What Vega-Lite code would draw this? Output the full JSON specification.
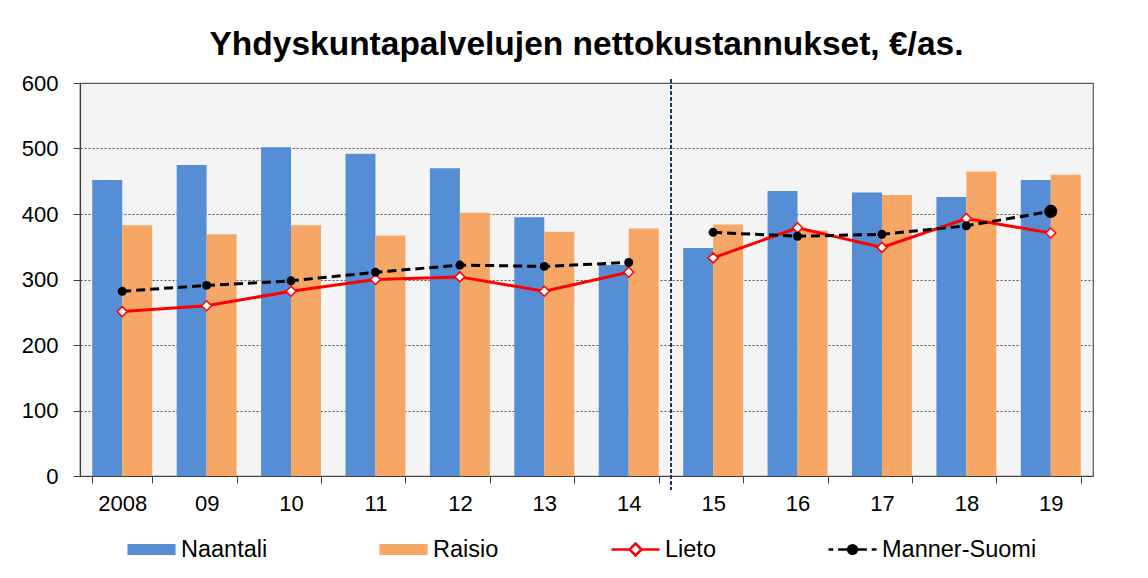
{
  "$schema": "https://vega.github.io/schema/vega-lite/v6.json",
  "width": 1013,
  "height": 393,
  "autosize": {"type": "none"},
  "padding": {"left": 80, "top": 83, "right": 55, "bottom": 102},
  "background": "#ffffff",
  "title": {
    "text": "Yhdyskuntapalvelujen nettokustannukset, €/as.",
    "fontSize": 33.5,
    "fontWeight": "bold",
    "font": "Liberation Sans",
    "color": "#000000",
    "anchor": "middle",
    "frame": "group",
    "offset": 10
  },
  "config": {
    "font": "Liberation Sans",
    "view": {"fill": "#f4f4f4", "stroke": "#595959", "strokeWidth": 1.2}
  },
  "data": {
    "values": [
      {"year": "2008", "series": "Naantali", "value": 452, "period": "a"},
      {"year": "2008", "series": "Raisio", "value": 383, "period": "a"},
      {"year": "2008", "series": "Lieto", "value": 251, "period": "a"},
      {"year": "2008", "series": "Manner-Suomi", "value": 282, "period": "a"},
      {"year": "09", "series": "Naantali", "value": 475, "period": "a"},
      {"year": "09", "series": "Raisio", "value": 369, "period": "a"},
      {"year": "09", "series": "Lieto", "value": 260, "period": "a"},
      {"year": "09", "series": "Manner-Suomi", "value": 291, "period": "a"},
      {"year": "10", "series": "Naantali", "value": 502, "period": "a"},
      {"year": "10", "series": "Raisio", "value": 383, "period": "a"},
      {"year": "10", "series": "Lieto", "value": 282, "period": "a"},
      {"year": "10", "series": "Manner-Suomi", "value": 298, "period": "a"},
      {"year": "11", "series": "Naantali", "value": 492, "period": "a"},
      {"year": "11", "series": "Raisio", "value": 367, "period": "a"},
      {"year": "11", "series": "Lieto", "value": 300, "period": "a"},
      {"year": "11", "series": "Manner-Suomi", "value": 311, "period": "a"},
      {"year": "12", "series": "Naantali", "value": 470, "period": "a"},
      {"year": "12", "series": "Raisio", "value": 402, "period": "a"},
      {"year": "12", "series": "Lieto", "value": 304, "period": "a"},
      {"year": "12", "series": "Manner-Suomi", "value": 322, "period": "a"},
      {"year": "13", "series": "Naantali", "value": 395, "period": "a"},
      {"year": "13", "series": "Raisio", "value": 373, "period": "a"},
      {"year": "13", "series": "Lieto", "value": 282, "period": "a"},
      {"year": "13", "series": "Manner-Suomi", "value": 320, "period": "a"},
      {"year": "14", "series": "Naantali", "value": 322, "period": "a"},
      {"year": "14", "series": "Raisio", "value": 378, "period": "a"},
      {"year": "14", "series": "Lieto", "value": 311, "period": "a"},
      {"year": "14", "series": "Manner-Suomi", "value": 326, "period": "a"},
      {"year": "15", "series": "Naantali", "value": 348, "period": "b"},
      {"year": "15", "series": "Raisio", "value": 384, "period": "b"},
      {"year": "15", "series": "Lieto", "value": 333, "period": "b"},
      {"year": "15", "series": "Manner-Suomi", "value": 372, "period": "b"},
      {"year": "16", "series": "Naantali", "value": 435, "period": "b"},
      {"year": "16", "series": "Raisio", "value": 375, "period": "b"},
      {"year": "16", "series": "Lieto", "value": 379, "period": "b"},
      {"year": "16", "series": "Manner-Suomi", "value": 366, "period": "b"},
      {"year": "17", "series": "Naantali", "value": 433, "period": "b"},
      {"year": "17", "series": "Raisio", "value": 429, "period": "b"},
      {"year": "17", "series": "Lieto", "value": 349, "period": "b"},
      {"year": "17", "series": "Manner-Suomi", "value": 369, "period": "b"},
      {"year": "18", "series": "Naantali", "value": 426, "period": "b"},
      {"year": "18", "series": "Raisio", "value": 465, "period": "b"},
      {"year": "18", "series": "Lieto", "value": 393, "period": "b"},
      {"year": "18", "series": "Manner-Suomi", "value": 382, "period": "b"},
      {"year": "19", "series": "Naantali", "value": 452, "period": "b"},
      {"year": "19", "series": "Raisio", "value": 460, "period": "b"},
      {"year": "19", "series": "Lieto", "value": 371, "period": "b"},
      {"year": "19", "series": "Manner-Suomi", "value": 404, "period": "b"}
    ]
  },
  "encoding": {
    "x": {
      "field": "year",
      "type": "nominal",
      "scale": {
        "domain": ["2008", "09", "10", "11", "12", "13", "14", "15", "16", "17", "18", "19"],
        "paddingInner": 0.29,
        "paddingOuter": 0.145
      },
      "axis": {
        "title": null,
        "labelAngle": 0,
        "labelFontSize": 22,
        "labelColor": "#000000",
        "labelPadding": 10,
        "tickBand": "extent",
        "tickSize": 7,
        "tickColor": "#404040",
        "domainColor": "#404040",
        "domainWidth": 1.2,
        "grid": false
      }
    }
  },
  "layer": [
    {
      "transform": [{"filter": "datum.series === 'Naantali' || datum.series === 'Raisio'"}],
      "mark": {"type": "bar", "opacity": 1},
      "encoding": {
        "xOffset": {"field": "series", "type": "nominal", "scale": {"domain": ["Naantali", "Raisio"], "paddingInner": 0, "paddingOuter": 0}},
        "y": {
          "field": "value",
          "type": "quantitative",
          "scale": {"domain": [0, 600], "nice": false},
          "axis": {
            "title": null,
            "values": [0, 100, 200, 300, 400, 500, 600],
            "labelFontSize": 22,
            "labelColor": "#000000",
            "labelPadding": 15,
            "tickSize": 7,
            "tickColor": "#404040",
            "domainColor": "#404040",
            "domainWidth": 1.2,
            "grid": true,
            "gridColor": "#555555",
            "gridDash": [2, 2],
            "gridWidth": 1
          }
        },
        "color": {
          "field": "series",
          "type": "nominal",
          "scale": {
            "domain": ["Naantali", "Raisio", "Lieto", "Manner-Suomi"],
            "range": ["#558ed5", "#f7a765", "#ffffff", "#000000"]
          },
          "legend": {
            "title": null,
            "orient": "none",
            "direction": "horizontal",
            "legendX": 46,
            "legendY": 441,
            "labelFontSize": 23.5,
            "labelColor": "#000000",
            "labelFont": "Liberation Sans",
            "labelOffset": 4,
            "labelLimit": 400,
            "columnPadding": 107,
            "symbolSize": 2304,
            "symbolStrokeWidth": 2.5,
            "symbolOpacity": 1
          }
        }
      }
    },
    {
      "transform": [{"filter": "datum.series === 'Lieto'"}],
      "mark": {"type": "line", "strokeWidth": 3},
      "encoding": {
        "y": {"field": "value", "type": "quantitative"},
        "detail": {"field": "period", "type": "nominal"},
        "stroke": {
          "field": "series",
          "type": "nominal",
          "scale": {
            "domain": ["Naantali", "Raisio", "Lieto", "Manner-Suomi"],
            "range": ["#558ed5", "#f7a765", "#ff0000", "#000000"]
          },
          "legend": {"title": null}
        }
      }
    },
    {
      "transform": [{"filter": "datum.series === 'Lieto'"}],
      "mark": {"type": "point", "shape": "diamond", "filled": true, "fill": "#ffffff", "stroke": "#ff0000", "strokeWidth": 1.5, "size": 100, "opacity": 1},
      "encoding": {
        "y": {"field": "value", "type": "quantitative"}
      }
    },
    {
      "transform": [{"filter": "datum.series === 'Manner-Suomi'"}],
      "mark": {"type": "line", "strokeWidth": 3, "strokeDash": [9, 5]},
      "encoding": {
        "y": {"field": "value", "type": "quantitative"},
        "detail": {"field": "period", "type": "nominal"},
        "stroke": {"field": "series", "type": "nominal", "legend": {"title": null}}
      }
    },
    {
      "transform": [{"filter": "datum.series === 'Manner-Suomi'"}],
      "mark": {"type": "circle", "color": "#000000", "opacity": 1},
      "encoding": {
        "y": {"field": "value", "type": "quantitative"},
        "size": {"condition": {"test": "datum.year === '19'", "value": 170}, "value": 80}
      }
    },
    {
      "transform": [{"filter": "false"}],
      "mark": {"type": "point", "filled": true, "opacity": 1},
      "encoding": {
        "y": {"field": "value", "type": "quantitative"},
        "shape": {
          "field": "series",
          "type": "nominal",
          "scale": {
            "domain": ["Naantali", "Raisio", "Lieto", "Manner-Suomi"],
            "range": [
              "M-0.95,-0.18H0.95V0.18H-0.95Z",
              "M-0.95,-0.18H0.95V0.18H-0.95Z",
              "M-1,0H-0.27M0.27,0H1M0,-0.25L0.25,0L0,0.25L-0.25,0Z",
              "M-1,0H-0.8M-0.6,0H-0.2M0.2,0H0.6M0.8,0H1M-0.18,0A0.18,0.18 0 1,0 0.18,0A0.18,0.18 0 1,0 -0.18,0Z"
            ]
          },
          "legend": {"title": null}
        }
      }
    },
    {
      "mark": {"type": "rule", "color": "#1f3864", "strokeWidth": 1.5, "strokeDash": [4, 2], "xOffset": 42.2},
      "encoding": {
        "x": {"datum": "14", "type": "nominal"},
        "y": {"datum": 606, "type": "quantitative"},
        "y2": {"datum": -21}
      }
    }
  ]
}
